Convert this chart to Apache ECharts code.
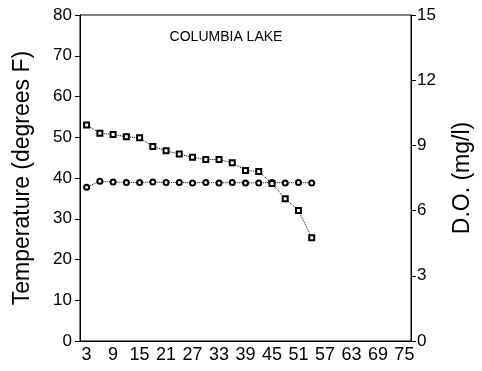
<!DOCTYPE html>
<html><head><meta charset="utf-8">
<script src="https://cdn.jsdelivr.net/npm/echarts@6/dist/echarts.min.js"></script>
<style>html,body{margin:0;padding:0;background:#fff}#c{width:482px;height:371px}</style>
</head><body><div id="c"></div>
<script>
var days = [3,6,9,12,15,18,21,24,27,30,33,36,39,42,45,48,51,54,57,60,63,66,69,72,75];
var temperature = [37.7,39.2,39.0,38.9,38.9,39.0,38.9,38.9,38.8,38.9,38.8,38.9,38.8,38.8,38.9,38.8,38.9,38.8];
var dissolvedOxygen = [9.94,9.56,9.5,9.4,9.35,8.95,8.75,8.6,8.45,8.35,8.35,8.2,7.85,7.8,7.25,6.55,6.0,4.75];
var tempTicks = {min:0, max:80, interval:10};
var doTicks = {min:0, max:15, interval:3};

var font = 'Liberation Sans, Arial, Helvetica, sans-serif';
var chart = echarts.init(document.getElementById('c'));
chart.setOption({
  animation:false,
  backgroundColor:'#fff',
  title:{text:'COLUMBIA LAKE', left:221, top:25, textAlign:'center',
    textStyle:{fontFamily:font, fontSize:14, fontWeight:'normal', color:'#000'}},
  grid:{left:80, right:69, top:15, bottom:30, show:true, borderColor:'#000', borderWidth:1, backgroundColor:'transparent'},
  xAxis:{type:'category', data:days, boundaryGap:true,
    axisLine:{lineStyle:{color:'#000', width:1}},
    axisTick:{alignWithLabel:true, interval:0, length:4, lineStyle:{color:'#000'}},
    axisLabel:{interval:1, color:'#000', fontFamily:font, fontSize:18, margin:5}},
  yAxis:[
    {type:'value', min:tempTicks.min, max:tempTicks.max, interval:tempTicks.interval, position:'left',
     name:'Temperature (degrees F)', nameLocation:'middle', nameGap:46, nameRotate:90,
     nameTextStyle:{fontFamily:font, fontSize:23, color:'#000'},
     axisLine:{show:true, lineStyle:{color:'#000'}}, axisTick:{show:true, length:5, lineStyle:{color:'#000'}},
     splitLine:{show:false},
     axisLabel:{color:'#000', fontFamily:font, fontSize:17, margin:8}},
    {type:'value', min:doTicks.min, max:doTicks.max, interval:doTicks.interval, position:'right',
     name:'D.O. (mg/l)', nameLocation:'middle', nameGap:40, nameRotate:90,
     nameTextStyle:{fontFamily:font, fontSize:23, color:'#000'},
     axisLine:{show:true, lineStyle:{color:'#000'}}, axisTick:{show:true, length:5, lineStyle:{color:'#000'}},
     splitLine:{show:false},
     axisLabel:{color:'#000', fontFamily:font, fontSize:17, margin:6}}
  ],
  series:[
    {name:'Temperature', type:'line', yAxisIndex:0, data:temperature,
     symbol:'emptyCircle', symbolSize:5, showSymbol:true, showAllSymbol:true,
     lineStyle:{color:'#000', width:1, type:'dotted'},
     itemStyle:{color:'#000', borderColor:'#000', borderWidth:1.2}},
    {name:'D.O.', type:'line', yAxisIndex:1, data:dissolvedOxygen,
     symbol:'emptyRect', symbolSize:5, showSymbol:true, showAllSymbol:true,
     lineStyle:{color:'#000', width:1, type:'dotted'},
     itemStyle:{color:'#000', borderColor:'#000', borderWidth:1.2}}
  ]
});
</script></body></html>
